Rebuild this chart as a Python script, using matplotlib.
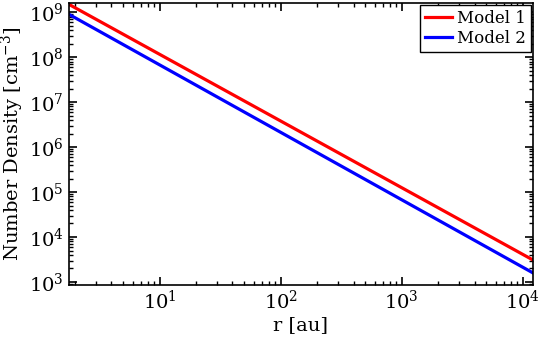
import matplotlib
matplotlib.use("Agg")
import matplotlib.pyplot as plt
from matplotlib.ticker import NullFormatter

# values (power-law, straight in log-log)
r_au = [1.78, 1.21e4]
model1 = [1.5e9, 3.1e3]
model2 = [9.0e8, 1.6e3]
labels = ["Model 1", "Model 2"]

plt.rcParams["font.family"] = "DejaVu Serif"
plt.rcParams["mathtext.fontset"] = "dejavuserif"

fig = plt.figure(figsize=(5.42, 3.38), dpi=100)
ax = fig.add_axes([0.127, 0.157, 0.856, 0.834])

ax.plot(r_au, model1, color="red", lw=2.3, label=labels[0])
ax.plot(r_au, model2, color="blue", lw=2.3, label=labels[1])

ax.set_xscale("log")
ax.set_yscale("log")
ax.set_xlim(1.78, 1.21e4)
ax.set_ylim(860, 1.6e9)
ax.xaxis.set_minor_formatter(NullFormatter())
ax.yaxis.set_minor_formatter(NullFormatter())

ax.set_xlabel("r [au]", fontsize=14, labelpad=2)
ax.set_ylabel(r"Number Density [cm$^{-3}$]", fontsize=14, labelpad=2)

ax.tick_params(which="both", direction="in", top=True, right=True, labelsize=14)
ax.tick_params(which="major", length=6, width=1.2)
ax.tick_params(which="minor", length=3, width=1)
for s in ax.spines.values():
    s.set_linewidth(1.2)

leg = ax.legend(loc="upper right", fontsize=12, fancybox=False, framealpha=1,
                edgecolor="black", borderpad=0.3, labelspacing=0.15,
                handlelength=1.6, handletextpad=0.3, borderaxespad=0.12)
leg.get_frame().set_linewidth(1)

fig.savefig("out.png", dpi=100)
